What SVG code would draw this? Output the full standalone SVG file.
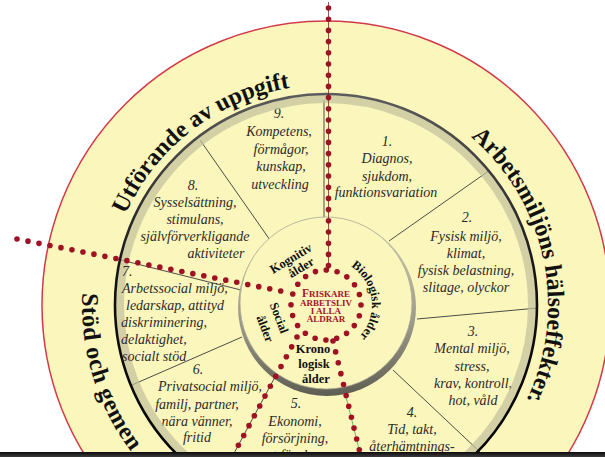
<svg xmlns="http://www.w3.org/2000/svg" width="605" height="457" viewBox="0 0 605 457">
  <defs>
    <style>
      .sec { font-family: "Liberation Serif", "Times New Roman", serif; font-style: italic; font-size: 14px; fill: #2b2b2b; text-anchor: middle; }
      .sec7 { font-family: "Liberation Serif", "Times New Roman", serif; font-style: italic; font-size: 14px; fill: #2b2b2b; }
      .band { font-family: "Liberation Serif", "Times New Roman", serif; font-weight: bold; font-size: 24px; fill: #111; }
      .age { font-family: "Liberation Serif", "Times New Roman", serif; font-weight: bold; font-size: 12.5px; fill: #111; }
      .core { font-family: "Liberation Serif", "Times New Roman", serif; font-weight: bold; fill: #a3142f; text-anchor: middle; font-size: 9px; }
      .div { stroke: #3a3a3a; stroke-width: 0.9; fill: none; }
      .dots { fill: none; stroke: #9e1224; stroke-width: 5.6; stroke-linecap: round; stroke-dasharray: 0 11.2; }
    </style>
    <linearGradient id="ringStroke" x1="0" y1="0" x2="0" y2="1">
      <stop offset="0" stop-color="#5c5c5c"/>
      <stop offset="0.45" stop-color="#111"/>
      <stop offset="1" stop-color="#000"/>
    </linearGradient>
    <linearGradient id="rim" x1="0" y1="0" x2="0" y2="1">
      <stop offset="0" stop-color="#d6d4b6"/>
      <stop offset="0.6" stop-color="#9a9888"/>
      <stop offset="1" stop-color="#5e5d52"/>
    </linearGradient>
    <linearGradient id="bar" x1="0" y1="0" x2="0" y2="1">
      <stop offset="0" stop-color="#0c0c0c"/>
      <stop offset="1" stop-color="#3c3c3c"/>
    </linearGradient>
    <!-- baselines for the curved headings -->
    <path id="arcTask" d="M116.1,239.2 A220,220 0 0,1 316.0,85.2"/>
    <path id="arcHealth" d="M446.9,118.8 A222,222 0 0,1 512.2,425.9"/>
    <path id="arcSupport" d="M82.3,293 A244,244 0 0,0 204,516.3"/>
    <path id="arcBio" d="M344.0,262.7 A46,46 0 0,1 353.7,341.7"/>
  </defs>

  <rect width="605" height="457" fill="#fff"/>

  <!-- outer band and sector disc -->
  <circle cx="326" cy="305" r="284" fill="#faf6bc" stroke="#d23a4a" stroke-width="1.5"/>
  <circle cx="326" cy="305" r="208" fill="#faf6bc"/>

  <g id="connectors">
    <!-- sector dividers -->
    <line class="div" x1="324" y1="100" x2="324" y2="220" stroke="#8a8a8a"/>
    <line class="div" x1="490" y1="170" x2="389" y2="241"/>
    <line class="div" x1="417" y1="319" x2="538" y2="308"/>
    <line class="div" x1="393" y1="370" x2="480" y2="452"/>
    <line class="div" x1="117" y1="259" x2="241" y2="290" stroke="#777"/>
    <line class="div" x1="132" y1="385" x2="242" y2="337"/>
    <line class="div" x1="200" y1="140" x2="270" y2="240"/>
    <line class="div" x1="275" y1="377" x2="232" y2="457"/>
    <line x1="333" y1="345" x2="361" y2="457" stroke="#5cbf62" stroke-width="1"/>
  </g>

  <g id="sector-9">
    <text class="sec" x="279" y="118">9.</text>
    <text class="sec" x="279" y="136">Kompetens,</text>
    <text class="sec" x="281" y="154">förmågor,</text>
    <text class="sec" x="281" y="171">kunskap,</text>
    <text class="sec" x="280" y="189">utveckling</text>
  </g>
  <g id="sector-1">
    <text class="sec" x="387" y="146">1.</text>
    <text class="sec" x="387" y="163">Diagnos,</text>
    <text class="sec" x="387" y="181">sjukdom,</text>
    <text class="sec" x="386" y="197">funktionsvariation</text>
  </g>
  <g id="sector-2">
    <text class="sec" x="467" y="222">2.</text>
    <text class="sec" x="466" y="241">Fysisk miljö,</text>
    <text class="sec" x="466" y="258">klimat,</text>
    <text class="sec" x="466" y="275">fysisk belastning,</text>
    <text class="sec" x="466" y="292">slitage, olyckor</text>
  </g>
  <g id="sector-3">
    <text class="sec" x="473" y="336">3.</text>
    <text class="sec" x="472" y="353">Mental miljö,</text>
    <text class="sec" x="472" y="371">stress,</text>
    <text class="sec" x="473" y="388">krav, kontroll,</text>
    <text class="sec" x="473" y="405">hot, våld</text>
  </g>
  <g id="sector-4">
    <text class="sec" x="412" y="417">4.</text>
    <text class="sec" x="412" y="434">Tid, takt,</text>
    <text class="sec" x="412" y="451">återhämtnings-</text>
  </g>
  <g id="sector-5">
    <text class="sec" x="296" y="408">5.</text>
    <text class="sec" x="295" y="426">Ekonomi,</text>
    <text class="sec" x="295" y="443">försörjning,</text>
    <text class="sec" x="295" y="460">mat för dagen</text>
  </g>
  <g id="sector-6">
    <text class="sec" x="198" y="374">6.</text>
    <text class="sec" x="210" y="391">Privatsocial miljö,</text>
    <text class="sec" x="197" y="409">familj, partner,</text>
    <text class="sec" x="197" y="426">nära vänner,</text>
    <text class="sec" x="197" y="442">fritid</text>
  </g>
  <g id="sector-8">
    <text class="sec" x="193" y="190">8.</text>
    <text class="sec" x="195" y="207">Sysselsättning,</text>
    <text class="sec" x="195" y="224">stimulans,</text>
    <text class="sec" x="195" y="241">självförverkligande</text>
    <text class="sec" x="216" y="258">aktiviteter</text>
  </g>

  <!-- bevelled ring between sectors and outer band -->
  <circle cx="326" cy="305" r="206" fill="none" stroke="#c2c09c" stroke-opacity="0.7" stroke-width="8"/>
  <circle cx="326" cy="305" r="211" fill="none" stroke="url(#ringStroke)" stroke-width="2.6"/>

  <g id="sector-7">
    <text class="sec7" x="122" y="276">7.</text>
    <text class="sec7" x="122" y="293">Arbetssocial miljö,</text>
    <text class="sec7" x="126" y="310">ledarskap, attityd</text>
    <text class="sec7" x="121" y="327">diskriminering,</text>
    <text class="sec7" x="121" y="344">delaktighet,</text>
    <text class="sec7" x="122" y="361">socialt stöd</text>
  </g>

  <g id="band-task">
    <text class="band"><textPath href="#arcTask" startOffset="50%" text-anchor="middle">Utförande av uppgift</textPath></text>
  </g>
  <g id="band-health">
    <text class="band"><textPath href="#arcHealth" startOffset="50%" text-anchor="middle">Arbetsmiljöns hälsoeffekter.</textPath></text>
  </g>
  <g id="band-support">
    <text class="band" letter-spacing="0.6"><textPath href="#arcSupport" startOffset="0">Stöd och gemen</textPath></text>
  </g>

  <!-- hub disc -->
  <g id="hub">
    <circle cx="327" cy="307" r="89" fill="url(#rim)"/>
    <circle cx="326" cy="303" r="86" fill="#faf6bc" stroke="#aaa896" stroke-width="0.8"/>
  </g>

  <g id="dotted-links">
    <line x1="328.5" y1="2" x2="328.5" y2="270" stroke="#7a2a30" stroke-width="0.8"/>
    <line class="dots" x1="328.5" y1="8" x2="328.5" y2="270"/>
    <line class="dots" x1="17" y1="239" x2="291" y2="293"/>
    <line class="dots" x1="333" y1="341" x2="361" y2="457"/>
    <line class="dots" x1="297" y1="337" x2="231" y2="459"/>
    <circle class="dots" cx="326" cy="305" r="35" style="stroke-dasharray:0 10.996"/>
  </g>

  <g id="age-cognitive">
    <g transform="translate(293,262) rotate(-31)">
      <text class="age" x="0" y="0" text-anchor="middle" font-size="13">Kognitiv</text>
      <text class="age" x="4" y="13" text-anchor="middle" font-size="13">ålder</text>
    </g>
  </g>
  <g id="age-biological">
    <text class="age"><textPath href="#arcBio" startOffset="50%" text-anchor="middle">Biologisk ålder</textPath></text>
  </g>
  <g id="age-social">
    <g transform="translate(279,318) rotate(69)">
      <text class="age" x="0" y="4" text-anchor="middle">Social</text>
      <text class="age" x="5" y="21" text-anchor="middle">ålder</text>
    </g>
  </g>
  <g id="age-chronological">
    <text class="age" x="313" y="353" text-anchor="middle">Krono</text>
    <text class="age" x="314" y="368" text-anchor="middle">logisk</text>
    <text class="age" x="316" y="383" text-anchor="middle">ålder</text>
  </g>

  <g id="core">
    <text class="core" x="326" y="297"><tspan font-size="11.5">F</tspan>RISKARE</text>
    <text class="core" x="326" y="306">ARBETSLIV</text>
    <text class="core" x="326" y="314">I ALLA</text>
    <text class="core" x="326" y="322">ÅLDRAR</text>
  </g>

  <rect x="0" y="452" width="605" height="5" fill="url(#bar)"/>
</svg>
